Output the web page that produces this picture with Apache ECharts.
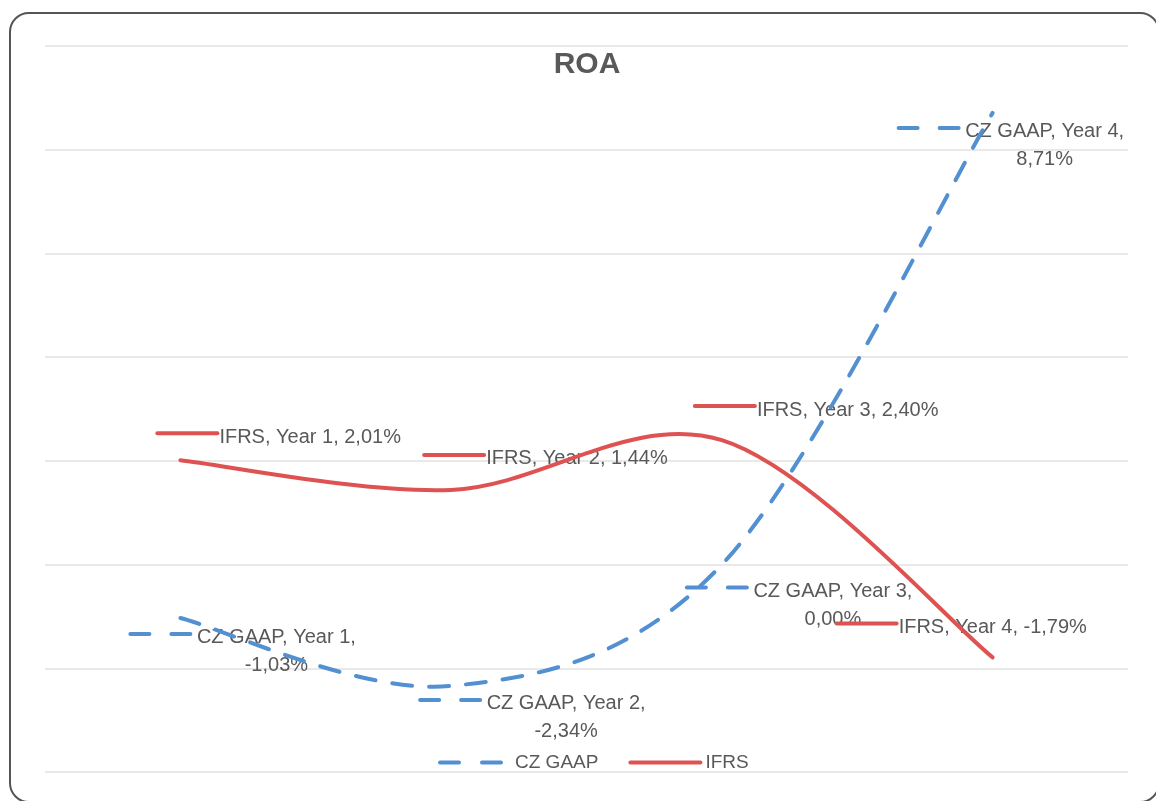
<!DOCTYPE html>
<html>
<head>
<meta charset="utf-8">
<script src="https://cdn.jsdelivr.net/npm/echarts@6/dist/echarts.min.js"></script>
<style>
html,body{margin:0;padding:0;background:#fff;width:1156px;height:801px;overflow:hidden;}
#frame{position:absolute;left:9px;top:12px;width:1151px;height:791px;box-sizing:border-box;border:2.5px solid #555;border-radius:20px;z-index:0;}
#chart{position:absolute;left:0;top:0;width:1156px;height:801px;z-index:1;}
</style>
</head>
<body>
<div id="frame"></div>
<div id="chart"></div>
<script>
// ---- data ----
const categories = ['Year 1', 'Year 2', 'Year 3', 'Year 4'];
const czGaap = [-1.03, -2.34, 0.00, 8.71];
const ifrs = [2.01, 1.44, 2.40, -1.79];
const seriesNames = ['CZ GAAP', 'IFRS'];

// ---- layout / style ----
const FONT = '"Liberation Sans", Arial, sans-serif';
const TEXT = '#595959';
const BLUE = '#5290D2';
const RED = '#DF5252';
const CZ_DASH = [20, 17];
const czOffsets = [[-52, 2], [-33, 0], [-37, 9], [-96, 1]];
const ifrsOffsets = [[-25, -41], [-29, -49], [-29, -48], [-158, -48]];

function fmt(v) { return v.toFixed(2).replace('.', ',') + '%'; }

const richCommon = {
  h: { width: 0, height: 28 },
  t: { width: 168, align: 'center', fontSize: 20, lineHeight: 15, verticalAlign: 'bottom', color: TEXT, fontFamily: FONT },
  u: { fontSize: 20, lineHeight: 15, verticalAlign: 'bottom', color: TEXT, fontFamily: FONT },
  d: { width: 23, height: 4, verticalAlign: 'middle', backgroundColor: BLUE, borderRadius: 2 },
  g: { width: 18, height: 4, verticalAlign: 'middle' },
  s: { width: 64, height: 4, verticalAlign: 'middle' },
  r: { width: 64, height: 4, verticalAlign: 'middle', backgroundColor: RED, borderRadius: 2 }
};

// Excel-like smoothing (Catmull-Rom as cubic Bezier), positions from the axes via api.coord
function smoothPathData(values, api) {
  const pts = values.map((v, i) => api.coord([i, v]));
  let d = 'M ' + pts[0][0] + ' ' + pts[0][1];
  for (let i = 0; i < pts.length - 1; i++) {
    const p0 = pts[Math.max(i - 1, 0)], p1 = pts[i], p2 = pts[i + 1], p3 = pts[Math.min(i + 2, pts.length - 1)];
    const c1x = p1[0] + (p2[0] - p0[0]) / 6, c1y = p1[1] + (p2[1] - p0[1]) / 6;
    const c2x = p2[0] - (p3[0] - p1[0]) / 6, c2y = p2[1] - (p3[1] - p1[1]) / 6;
    d += ' C ' + c1x + ' ' + c1y + ' ' + c2x + ' ' + c2y + ' ' + p2[0] + ' ' + p2[1];
  }
  return d;
}
function curveSeries(values, color, dash, z) {
  return {
    type: 'custom',
    data: values,
    z: z,
    silent: true,
    renderItem: function (params, api) {
      if (params.dataIndex !== 0) return null;
      return {
        type: 'path',
        shape: { pathData: smoothPathData(values, api) },
        style: { fill: 'none', stroke: color, lineWidth: 4, lineDash: dash, lineCap: 'round', lineJoin: 'round' }
      };
    }
  };
}

const czData = czGaap.map((v, i) => ({ value: v, label: { offset: czOffsets[i] } }));
const ifrsData = ifrs.map((v, i) => ({ value: v, label: { offset: ifrsOffsets[i] } }));

const chart = echarts.init(document.getElementById('chart'), null, { renderer: 'canvas' });
chart.setOption({
  animation: false,
  backgroundColor: 'transparent',
  title: {
    text: 'ROA',
    left: 582,
    textAlign: 'center',
    top: 45,
    textStyle: { fontFamily: FONT, fontSize: 30, fontWeight: 'bold', color: TEXT }
  },
  legend: {
    data: [
      { name: seriesNames[0], lineStyle: { color: BLUE, width: 4, type: [19, 23], cap: 'round', opacity: 1 } },
      { name: seriesNames[1], lineStyle: { color: RED, width: 4, type: 'solid', cap: 'round', opacity: 1 } }
    ],
    left: 438,
    top: 753,
    padding: 0,
    itemWidth: 70,
    itemHeight: 14,
    itemGap: 30,
    itemStyle: { opacity: 0 },
    textStyle: { fontFamily: FONT, fontSize: 19, color: TEXT, padding: [4, 0, 0, 0] }
  },
  grid: { left: 45, right: 28, top: 46, bottom: 29, containLabel: false },
  xAxis: {
    type: 'category',
    data: categories,
    boundaryGap: true,
    axisLine: { show: false },
    axisTick: { show: false },
    axisLabel: { show: false },
    splitLine: { show: false }
  },
  yAxis: {
    type: 'value',
    min: -4,
    max: 10,
    interval: 2,
    axisLine: { show: false },
    axisTick: { show: false },
    axisLabel: { show: false },
    splitLine: { show: true, lineStyle: { color: '#e9e9e9', width: 2 } }
  },
  series: [
    {
      name: seriesNames[0],
      type: 'line',
      data: czData,
      smooth: 0.5,
      symbol: 'circle',
      symbolSize: 1,
      showSymbol: true,
      itemStyle: { color: BLUE, opacity: 0 },
      lineStyle: { color: BLUE, width: 4, type: CZ_DASH, cap: 'round', opacity: 0 },
      label: {
        show: true,
        position: 'inside',
        align: 'left',
        verticalAlign: 'top',
        opacity: 1,
        formatter: p => '{h|}{d|}{g|}{d|}{t|' + p.seriesName + ', ' + p.name + ',}\n{h|}{s|}{t|' + fmt(p.value) + '}',
        rich: richCommon
      },
      emphasis: { disabled: true },
      z: 2
    },
    {
      name: seriesNames[1],
      type: 'line',
      data: ifrsData,
      smooth: 0.5,
      symbol: 'circle',
      symbolSize: 1,
      showSymbol: true,
      itemStyle: { color: RED, opacity: 0 },
      lineStyle: { color: RED, width: 4, cap: 'round', opacity: 0 },
      label: {
        show: true,
        position: 'inside',
        align: 'left',
        verticalAlign: 'top',
        opacity: 1,
        formatter: p => '{h|}{r|}{u|' + p.seriesName + ', ' + p.name + ', ' + fmt(p.value) + '}',
        rich: richCommon
      },
      emphasis: { disabled: true },
      z: 3
    },
    curveSeries(czGaap, BLUE, CZ_DASH, 5),
    curveSeries(ifrs, RED, null, 6)
  ]
});
</script>
</body>
</html>
